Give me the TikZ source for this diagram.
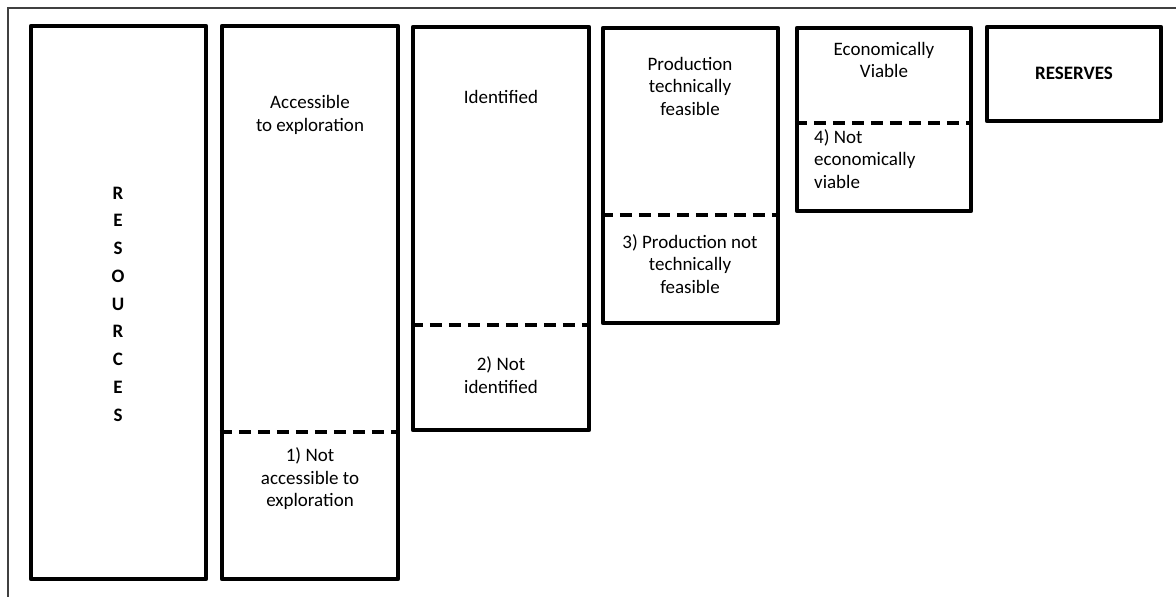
\documentclass[tikz,border=0pt]{standalone}
\usepackage{fontspec}
\setmainfont{Carlito}
\begin{document}
\begin{tikzpicture}[x=1pt,y=-1pt,
  stagebox/.style={draw, line width=4.5pt, line join=round, inner sep=0pt, minimum width=#1},
  divider/.style={line width=4pt, dash pattern=on 12pt off 7pt},
  lbl/.style={font=\fontsize{19}{22.5}\selectfont, align=center, inner sep=0pt},
  boldlbl/.style={font=\fontsize{19}{22.5}\selectfont\bfseries, align=center, inner sep=0pt},
  frameline/.style={line width=1.3pt, draw=black!75}
]
\useasboundingbox (0,0) rectangle (1176,597);

% outer frame (top and left edges)
\coordinate (frTR) at (1176,8);
\coordinate (frTL) at (8,8);
\coordinate (frBL) at (8,597);
\draw[frameline] (frTR) -- (frTL) -- (frBL);

% the six stage boxes
\node[stagebox=175pt, minimum height=553pt] (res)  at (118.5,302.5) {};
\node[stagebox=176pt, minimum height=553pt] (acc)  at (310,302.5) {};
\node[stagebox=176pt, minimum height=403pt] (idn)  at (501,228.5) {};
\node[stagebox=175pt, minimum height=295pt] (prod) at (690.5,175.5) {};
\node[stagebox=174pt, minimum height=183pt] (eco)  at (884,119.5) {};
\node[stagebox=174pt, minimum height=94pt]  (rsv)  at (1074,74) {};

% dashed dividers between the included and excluded parts
\coordinate (dAcc) at (0,432);
\coordinate (dIdn) at (0,325);
\coordinate (dProd) at (0,215);
\coordinate (dEco) at (0,123);
\draw[divider] (acc.west |- dAcc) -- (acc.east |- dAcc);
\draw[divider] (idn.west |- dIdn) -- (idn.east |- dIdn);
\draw[divider] (prod.west |- dProd) -- (prod.east |- dProd);
\draw[divider] (eco.west |- dEco) -- (eco.east |- dEco);

% labels
\node[boldlbl, font=\fontsize{19}{27.75}\selectfont\bfseries] (tRes) at (118,304)
  {R\\E\\S\\O\\U\\R\\C\\E\\S};
\node[lbl] (tAccA) at (310,115) {Accessible\\to exploration};
\node[lbl] (tAccB) at (310,479) {1) Not\\accessible to\\exploration};
\node[lbl] (tIdnA) at (501,97) {Identified};
\node[lbl] (tIdnB) at (501,375) {2) Not\\identified};
\node[lbl] (tProdA) at (690,86) {Production\\technically\\feasible};
\node[lbl] (tProdB) at (690,264) {3) Production not\\technically\\feasible};
\node[lbl] (tEcoA) at (884,60) {Economically\\Viable};
\node[lbl, align=left, anchor=west] (tEcoB) at (814,159) {4) Not\\economically\\viable};
\node[boldlbl] (tRsv) at (1074,73) {RESERVES};
\end{tikzpicture}
\end{document}
